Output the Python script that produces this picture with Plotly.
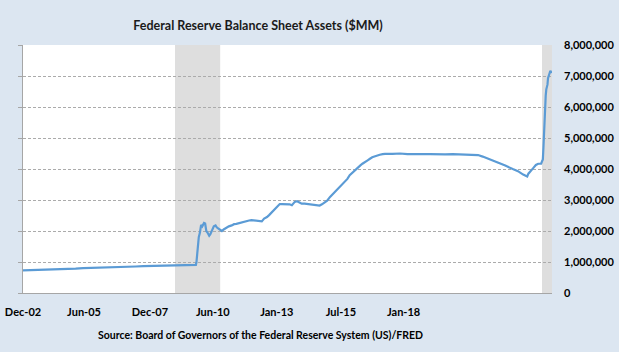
import plotly.graph_objects as go

# Federal Reserve total assets, $MM
dates = [
    "2002-12-18", "2003-03-19", "2003-06-18", "2003-09-17", "2003-12-17",
    "2004-03-17", "2004-06-16", "2004-09-15", "2004-12-15", "2005-03-16",
    "2005-06-15", "2005-09-14", "2005-12-14", "2006-03-15", "2006-06-14",
    "2006-09-13", "2006-12-13", "2007-03-14", "2007-06-13", "2007-09-12",
    "2007-12-12", "2008-03-12", "2008-06-11", "2008-09-10", "2008-09-17",
    "2008-09-24", "2008-10-01", "2008-10-15", "2008-10-29", "2008-11-12",
    "2008-11-26", "2008-12-17", "2008-12-31", "2009-01-14", "2009-01-28",
    "2009-02-18", "2009-03-04", "2009-03-25", "2009-04-15", "2009-05-06",
    "2009-05-20", "2009-06-10", "2009-07-01", "2009-07-22", "2009-08-12",
    "2009-09-09", "2009-10-14", "2009-11-18", "2009-12-16", "2010-01-13",
    "2010-02-17", "2010-03-17", "2010-04-21", "2010-05-19", "2010-06-16",
    "2010-07-14", "2010-08-18", "2010-09-15", "2010-10-20", "2010-11-17",
    "2010-12-15", "2011-01-19", "2011-02-16", "2011-03-16", "2011-04-20",
    "2011-05-18", "2011-06-22", "2011-07-20", "2011-08-17", "2011-09-14",
    "2011-10-19", "2011-11-16", "2011-12-21", "2012-01-18", "2012-02-15",
    "2012-03-14", "2012-04-18", "2012-05-16", "2012-06-20", "2012-07-18",
    "2012-08-15", "2012-09-19", "2012-10-17", "2012-11-14", "2012-12-19",
    "2013-01-16", "2013-02-20", "2013-03-20", "2013-04-17", "2013-05-15",
    "2013-06-19", "2013-07-17", "2013-08-21", "2013-09-18", "2013-10-16",
    "2013-11-20", "2013-12-18", "2014-01-15", "2014-02-19", "2014-03-19",
    "2014-04-16", "2014-05-21", "2014-06-18", "2014-07-16", "2014-08-20",
    "2014-09-17", "2014-10-15", "2014-11-19", "2014-12-17", "2015-03-18",
    "2015-06-17", "2015-09-16", "2015-12-16", "2016-03-16", "2016-06-15",
    "2016-09-14", "2016-12-14", "2017-03-15", "2017-06-14", "2017-09-13",
    "2017-12-13", "2018-01-17", "2018-03-14", "2018-06-13", "2018-09-12",
    "2018-12-12", "2019-03-13", "2019-05-15", "2019-07-17", "2019-08-28",
    "2019-09-04", "2019-09-18", "2019-10-16", "2019-11-13", "2019-12-18",
    "2020-01-15", "2020-02-19", "2020-03-04", "2020-03-11", "2020-03-18",
    "2020-03-25", "2020-04-01", "2020-04-08", "2020-04-15", "2020-04-22",
    "2020-04-29", "2020-05-06", "2020-05-13", "2020-05-20", "2020-05-27",
    "2020-06-03", "2020-06-10", "2020-06-17", "2020-06-24",
]
assets = [
    730000, 735000, 740000, 745000, 760000,
    765000, 775000, 785000, 800000, 805000,
    815000, 825000, 835000, 840000, 850000,
    855000, 865000, 870000, 875000, 880000,
    885000, 890000, 895000, 905000, 1000000,
    1200000, 1500000, 1800000, 1950000, 2200000,
    2150000, 2260000, 2240000, 2000000, 1950000,
    1850000, 1900000, 2050000, 2150000, 2180000,
    2120000, 2080000, 2030000, 2000000, 2050000,
    2100000, 2150000, 2180000, 2220000, 2230000,
    2260000, 2280000, 2300000, 2330000, 2340000,
    2350000, 2340000, 2320000, 2300000, 2310000,
    2400000, 2450000, 2520000, 2600000, 2700000,
    2800000, 2870000, 2870000, 2870000, 2860000,
    2860000, 2830000, 2940000, 2960000, 2920000,
    2880000, 2880000, 2870000, 2860000, 2840000,
    2830000, 2810000, 2820000, 2860000, 2920000,
    2980000, 3100000, 3180000, 3260000, 3330000,
    3430000, 3510000, 3590000, 3680000, 3800000,
    3890000, 3980000, 4050000, 4110000, 4170000,
    4210000, 4280000, 4330000, 4380000, 4410000,
    4440000, 4460000, 4480000, 4490000, 4490000,
    4500000, 4480000, 4490000, 4480000, 4480000,
    4470000, 4470000, 4480000, 4470000, 4470000,
    4460000, 4450000, 4400000, 4310000, 4210000,
    4110000, 4000000, 3930000, 3820000, 3760000,
    3760000, 3850000, 3950000, 4020000, 4130000,
    4170000, 4170000, 4240000, 4310000, 4670000,
    5250000, 5810000, 6080000, 6370000, 6570000,
    6650000, 6720000, 6930000, 7000000, 7100000,
    7170000, 7170000, 7140000, 7090000,
]

# Recession periods (shaded)
rec_start = ["2008-01-01", "2020-03-01"]
rec_end = ["2009-07-01", "2020-06-30"]

# X tick labels (as printed on the chart) and where they sit
tick_dates = ["2002-12-18", "2004-12-26", "2007-03-03", "2009-04-03",
              "2011-05-18", "2013-07-01", "2015-07-31"]
tick_labels = ["Dec-02", "Jun-05", "Dec-07", "Jun-10", "Jan-13", "Jul-15", "Jan-18"]

y_ticks = [0, 1000000, 2000000, 3000000, 4000000, 5000000, 6000000, 7000000, 8000000]

x_range = ["2002-12-18", "2020-06-30"]

FONT = "Lato"
BG = "#dce6f1"
GRID = "#ababab"
AXIS = "#a6a6a6"

fig = go.Figure()
fig.add_trace(go.Scatter(
    x=dates, y=assets, mode="lines",
    line=dict(color="#5b9bd5", width=2.2),
    hoverinfo="skip", showlegend=False,
))
# invisible trace on the right-hand axis so it is drawn
fig.add_trace(go.Scatter(
    x=dates, y=assets, mode="lines", yaxis="y2",
    line=dict(color="rgba(0,0,0,0)", width=0),
    hoverinfo="skip", showlegend=False,
))

for s, e in zip(rec_start, rec_end):
    fig.add_shape(type="rect", xref="x", yref="paper", x0=s, x1=e, y0=0, y1=1,
                  fillcolor="#dedede", line=dict(width=0), layer="below")

fig.update_layout(
    width=619, height=352,
    margin=dict(l=23, r=67, t=45, b=59, autoexpand=False),
    paper_bgcolor=BG, plot_bgcolor="white",
    font=dict(family=FONT, color="#000000"),
    title=dict(text="Federal Reserve Balance Sheet Assets ($MM)",
               xref="container", x=258 / 619, xanchor="center",
               yref="container", y=1 - 26 / 352, yanchor="middle",
               font=dict(family=FONT, size=12.5, color="#1a1a1a", weight="bold")),
    xaxis=dict(
        type="date", range=x_range, automargin=False,
        tickvals=tick_dates, ticktext=tick_labels,
        showgrid=False, zeroline=False,
        showline=True, linecolor=AXIS, linewidth=1,
        ticks="", ticklabelstandoff=9,
        tickfont=dict(family=FONT, size=11, color="#000000", weight="bold"),
    ),
    yaxis=dict(
        range=[0, 8000000], tickvals=y_ticks, automargin=False,
        showgrid=True, gridcolor=GRID, griddash="3px,2px", gridwidth=1,
        zeroline=False, showline=True, linecolor=AXIS, linewidth=1,
        ticks="outside", ticklen=4, tickcolor=AXIS,
        showticklabels=False,
    ),
    yaxis2=dict(
        overlaying="y", side="right", automargin=False,
        range=[0, 8000000], tickvals=y_ticks, tickformat=",d",
        showgrid=False, zeroline=False, showline=False, ticks="",
        ticklabelstandoff=11,
        tickfont=dict(family=FONT, size=11, color="#000000", weight="bold"),
    ),
    annotations=[dict(
        text="Source: Board of Governors of the Federal Reserve System (US)/FRED",
        xref="paper", yref="paper", x=(260.5 - 23) / 529, y=(293 - 335) / 248,
        xanchor="center", yanchor="middle", showarrow=False,
        font=dict(family=FONT, size=10.5, color="#000000", weight="bold"),
    )],
)

fig.write_html("out.html")
